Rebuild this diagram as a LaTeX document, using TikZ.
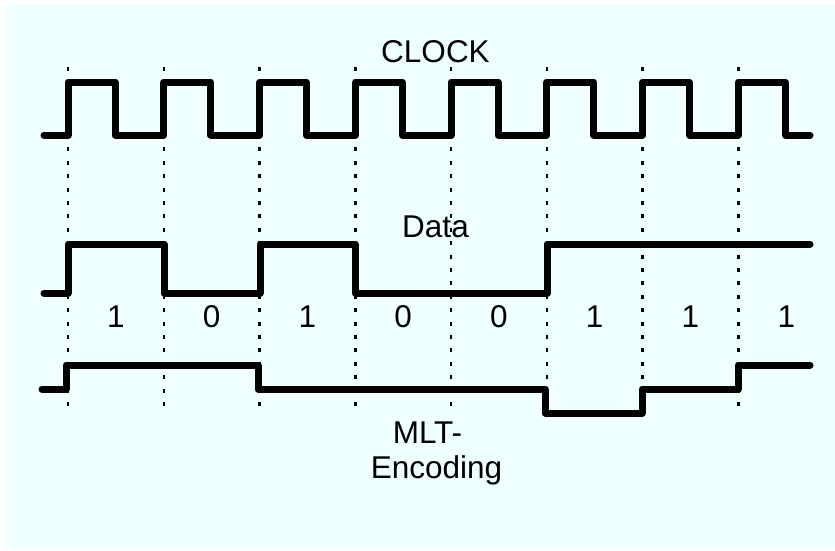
\documentclass[tikz,border=0pt]{standalone}
\usepackage{xcolor}
\usepackage{fontspec}
\setmainfont{Liberation Sans}
\usepackage{tikz}
\usetikzlibrary{positioning}

\definecolor{bgcyan}{RGB}{240,255,255}

\begin{document}
\begin{tikzpicture}[
    x=1pt, y=-1pt,
    % Define styles for the signals and labels
        wave/.style={line width=7pt, line join=round, line cap=round},
        guide/.style={line width=2.5pt, dash pattern=on 4pt off 9.4pt},
        textnode/.style={anchor=base, inner sep=0pt, font=\fontsize{31.5}{36}\selectfont},
        bitnode/.style={textnode}
    ]

        % Canvas and background
        \useasboundingbox (0,0) rectangle (835,550);
        \fill[bgcyan] (6,5) rectangle (835,549);

        % Signal names
        \node[textnode] (clock) at (435.5,62) {CLOCK};
        \node[textnode] (data) at (435.5,237) {Data};
        \node[textnode] (mlt) at (427.5,443) {MLT-};
        \node[textnode] (enc) at (436.5,478) {Encoding};

        % Data bits
        \foreach \b [count=\i from 0] in {1,0,1,0,0,1,1,1}
            \node[bitnode] (bit\i) at ({116+95.75*\i},327) {\b};

        % Dotted guides at each clock edge
        \foreach \i in {0,...,7}
            \draw[guide] ({68+95.75*\i},67) -- ({68+95.75*\i},406);

        % Clock
        \draw[wave] (44,135)
            \foreach \i in {0,...,7} {
                -- ({68+95.75*\i},135) -- ({68+95.75*\i},82)
                -- ({115+95.75*\i},82) -- ({115+95.75*\i},135)
            } -- (810,135);

        % Data
        \draw[wave] (44,293) -- (68,293) -- (68,244) -- (164,244) -- (164,293)
            -- (260,293) -- (260,244) -- (355,244) -- (355,293)
            -- (547,293) -- (547,244) -- (810,244);

        % MLT-3 encoded signal
        \draw[wave] (42,389) -- (66,389) -- (66,365) -- (258,365) -- (258,389)
            -- (545,389) -- (545,413) -- (642,413) -- (642,389)
            -- (738,389) -- (738,365) -- (810,365);
    \end{tikzpicture}
\end{document}
